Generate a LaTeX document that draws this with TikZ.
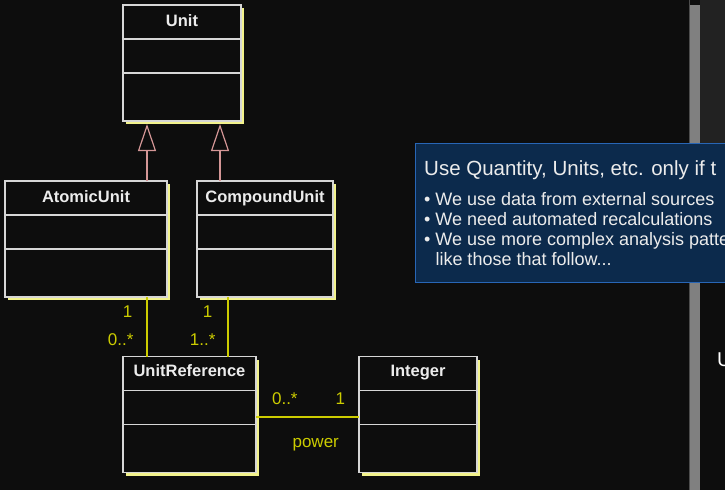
\documentclass[tikz,border=0pt]{standalone}
\usepackage{fontspec}
\setmainfont{Liberation Sans}
\usetikzlibrary{positioning,arrows.meta,shadows}

\definecolor{bg}{RGB}{13,13,13}
\definecolor{clsline}{RGB}{214,214,214}
\definecolor{clstext}{RGB}{236,236,236}
\definecolor{shadowyel}{RGB}{242,242,140}
\definecolor{assocyel}{RGB}{204,204,0}
\definecolor{genpink}{RGB}{212,150,150}
\definecolor{notefill}{RGB}{12,42,76}
\definecolor{noteline}{RGB}{40,102,182}
\definecolor{panelgray}{RGB}{34,34,34}
\definecolor{bargray}{RGB}{128,128,128}

\begin{document}
\begin{tikzpicture}[x=1pt, y=-1pt,
    cls/.style = {draw=clsline, fill=bg, line width=1.2pt, minimum height=116pt, inner sep=0pt, outer sep=0pt,
        drop shadow={shadow xshift=3pt, shadow yshift=-3pt, fill=shadowyel, opacity=1},
        path picture={\draw[clsline, line width=1.2pt]
            ([yshift=-34pt]path picture bounding box.north west) -- ([yshift=-34pt]path picture bounding box.north east)
            ([yshift=-68pt]path picture bounding box.north west) -- ([yshift=-68pt]path picture bounding box.north east);}},
    ttl/.style = {anchor=base, inner sep=0pt, text=clstext, font=\fontsize{16.5}{19}\selectfont\bfseries},
    gen/.style = {draw=genpink, line width=1.2pt, shorten >=3pt, -{Triangle[open, length=27pt, width=18pt]}},
    assoc/.style = {draw=assocyel, line width=1.2pt},
    mult/.style = {inner sep=0pt, text=assocyel, font=\fontsize{17}{20}\selectfont},
    note/.style = {draw=noteline, fill=notefill, line width=1.2pt, anchor=north west},
    ntitle/.style = {anchor=base west, inner sep=0pt, text=clstext, font=\fontsize{20.5}{24}\selectfont},
    nbul/.style = {anchor=base west, inner sep=0pt, text=clstext, font=\fontsize{18}{20}\selectfont}
    ]
\useasboundingbox (0,0) rectangle (725,490);
\fill[bg] (0,0) rectangle (725,490);
\clip (0,0) rectangle (725,490);

% slide frame on the right
\fill[panelgray] (700,0) rectangle (725,200);
\fill[bargray] (690,5) rectangle (700,490);
\draw[bargray!140, line width=1pt] (689,0) -- (689,490);
\node[anchor=base west, inner sep=0pt, text=white, font=\fontsize{20}{24}\selectfont] (nextU) at (717,366) {U};

% note box
\node[note, minimum width=340pt, minimum height=139pt] (note) at (415,143) {};
\node[ntitle] (nt) at ([xshift=9pt, yshift=-32pt]note.north west) {Use Quantity, Units, etc. only if t};
\node[nbul] (b1) at ([yshift=-30pt]nt.base west) {• We use data from external sources};
\node[nbul] (b2) at ([yshift=-20pt]b1.base west) {• We need automated recalculations};
\node[nbul] (b3) at ([yshift=-20pt]b2.base west) {• We use more complex analysis patte};
\node[nbul] (b4) at ([yshift=-20pt]b3.base west) {\phantom{• }like those that follow...};

% classes
\node[cls, minimum width=118pt] (unit) at (182,63) {};
\node[cls, minimum width=162pt] (atomic) at (86,239) {};
\node[cls, minimum width=136pt] (compound) [right=30pt of atomic] {};
\node[cls, minimum width=133pt] (uref) at (189.5,414.5) {};
\node[cls, minimum width=118pt] (integer) [right=103pt of uref] {};

\node[ttl] (unitT) at ([yshift=-21pt]unit.north) {Unit};
\node[ttl] (atomicT) at ([yshift=-21pt]atomic.north) {AtomicUnit};
\node[ttl] (compoundT) at ([yshift=-21pt]compound.north) {CompoundUnit};
\node[ttl] (urefT) at ([yshift=-20pt]uref.north) {UnitReference};
\node[ttl] (integerT) at ([yshift=-20pt]integer.north) {Integer};

% generalisations
\draw[gen] ([xshift=61pt]atomic.north) -- ([xshift=-35pt]unit.south);
\draw[gen] ([xshift=-45pt]compound.north) -- ([xshift=38pt]unit.south);

% associations
\draw[assoc] ([xshift=61pt]atomic.south) -- ([xshift=-42.5pt]uref.north)
    node[mult, pos=.25, left=14pt] (m1) {1}
    node[mult, pos=.72, left=13pt] (m2) {0..*};
\draw[assoc] ([xshift=-37pt]compound.south) -- ([xshift=38.5pt]uref.north)
    node[mult, pos=.25, left=15pt] (m3) {1}
    node[mult, pos=.72, left=12pt] (m4) {1..*};
\draw[assoc] ([yshift=-2.5pt]uref.east) -- ([yshift=-2.5pt]integer.west)
    node[mult, pos=.28, above=12pt] (m5) {0..*}
    node[mult, pos=.82, above=12pt] (m6) {1}
    node[mult, pos=.58, below=21pt] (pw) {power};

\end{tikzpicture}
\end{document}
